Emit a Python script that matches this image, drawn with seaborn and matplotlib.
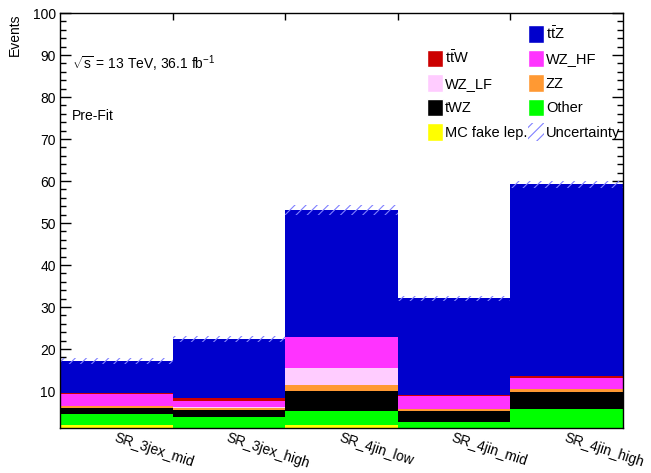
import numpy as np
import pandas as pd
import matplotlib
matplotlib.use("Agg")
import matplotlib.pyplot as plt
from matplotlib.patches import Patch
from matplotlib.ticker import MultipleLocator
import seaborn as sns

# signal regions (one bin each)
regions = ["SR_3jex_mid", "SR_3jex_high", "SR_4jin_low", "SR_4jin_mid", "SR_4jin_high"]

# pre-fit yields per sample
ttZ = [7.5, 14.0, 30.2, 23.1, 45.6]
ttW = [0.3, 0.7, 0.15, 0.05, 0.4]
wz_hf = [2.7, 1.6, 7.4, 3.1, 2.7]
wz_lf = [0.2, 0.1, 4.0, 0.1, 0.1]
zz = [0.4, 0.5, 1.4, 0.4, 0.6]
twz = [1.5, 1.6, 4.8, 2.6, 4.1]
other = [2.45, 3.6, 3.2, 2.5, 5.5]
fake = [2.0, 0.3, 2.0, 0.2, 0.2]
uncert = [0.7, 0.7, 1.2, 0.6, 0.9]

# top of stack first, bottom last (seaborn stacks last hue at the bottom)
samples = ["ttZ", "ttW", "WZ_HF", "WZ_LF", "ZZ", "tWZ", "Other", "MC fake lep."]
yields = [ttZ, ttW, wz_hf, wz_lf, zz, twz, other, fake]
colors = {
    "ttZ": "#0000cc",
    "ttW": "#cc0000",
    "WZ_HF": "#ff33ff",
    "WZ_LF": "#ffccff",
    "ZZ": "#ff9933",
    "tWZ": "#000000",
    "Other": "#00ff00",
    "MC fake lep.": "#ffff00",
}
labels = {
    "ttZ": r"$\mathrm{t\bar{t}Z}$",
    "ttW": r"$\mathrm{t\bar{t}W}$",
}
unc_color = "#8080ff"

rows = []
for s, vals in zip(samples, yields):
    for i, v in enumerate(vals):
        rows.append({"bin": i + 0.5, "sample": s, "yield": v})
df = pd.DataFrame(rows)
total = df.groupby("bin")["yield"].sum().values

sns.set_style("ticks")
plt.rcParams["font.family"] = ["Liberation Sans", "DejaVu Sans"]
plt.rcParams["mathtext.fontset"] = "custom"
plt.rcParams["mathtext.rm"] = "Liberation Sans"
plt.rcParams["hatch.linewidth"] = 0.8
plt.rcParams["hatch.color"] = unc_color
plt.rcParams["text.color"] = "black"
plt.rcParams["axes.labelcolor"] = "black"

fig = plt.figure(figsize=(6.51, 4.73), dpi=100)
ax = fig.add_axes([60 / 651, 1 - 428 / 473, 563 / 651, 415 / 473])

sns.histplot(
    data=df, x="bin", weights="yield", hue="sample", hue_order=samples,
    palette=colors, multiple="stack", bins=5, binrange=(0, 5), element="bars",
    alpha=1, linewidth=0, edgecolor="none", shrink=1, legend=False, ax=ax,
)

# uncertainty band on top of the stack
ax.bar(np.arange(5) + 0.5, 2 * np.array(uncert), bottom=total - np.array(uncert),
       width=1, fill=False, hatch="///", edgecolor=unc_color, linewidth=0)

ax.set_xlim(0, 5)
ax.set_ylim(1.2, 100)
ax.set_xlabel("")
ax.set_ylabel("Events", loc="top", fontsize=10, labelpad=8)

# x: ticks on bin edges, labels at centers
ax.set_xticks([1, 2, 3, 4], labels=[])
ax.set_xticks(np.arange(5) + 0.5, labels=regions, minor=True)
ax.tick_params(axis="x", which="major", direction="in", length=5, top=True, width=1, color="black")
ax.tick_params(axis="x", which="minor", length=0, pad=2, labelsize=10, labelrotation=-18,
               labelcolor="black")
for lab in ax.get_xticklabels(minor=True):
    lab.set_ha("left")
    lab.set_rotation_mode("anchor")

ax.set_yticks(np.arange(10, 101, 10))
ax.yaxis.set_minor_locator(MultipleLocator(2))
ax.tick_params(axis="y", which="major", direction="in", length=8, right=True, labelsize=10,
               pad=3, width=1, color="black", labelcolor="black")
ax.tick_params(axis="y", which="minor", direction="in", length=4, right=True, width=1, color="black")
for sp in ax.spines.values():
    sp.set_linewidth(1)
    sp.set_color("black")
    sp.set_visible(True)

ax.text(0.021, 0.877, r"$\sqrt{\mathrm{s}}$ = 13 TeV, 36.1 fb$^{-1}$", transform=ax.transAxes,
        fontsize=10, va="center", ha="left")
ax.text(0.021, 0.752, "Pre-Fit", transform=ax.transAxes, fontsize=10, va="center", ha="left")

handles = [
    Patch(facecolor="none", edgecolor="none", label=" "),
    Patch(facecolor=colors["ttW"], label=labels["ttW"]),
    Patch(facecolor=colors["WZ_LF"], label="WZ_LF"),
    Patch(facecolor=colors["tWZ"], label="tWZ"),
    Patch(facecolor=colors["MC fake lep."], label="MC fake lep."),
    Patch(facecolor=colors["ttZ"], label=labels["ttZ"]),
    Patch(facecolor=colors["WZ_HF"], label="WZ_HF"),
    Patch(facecolor=colors["ZZ"], label="ZZ"),
    Patch(facecolor=colors["Other"], label="Other"),
    Patch(facecolor="none", edgecolor=unc_color, hatch="///", linewidth=0, label="Uncertainty"),
]
fig.legend(handles=handles, ncol=2, loc="upper left", bbox_to_anchor=(427 / 651, 1 - 25 / 473),
           bbox_transform=fig.transFigure, frameon=False, fontsize=10.5,
           handlelength=1.1, handleheight=1.5, handletextpad=0.15, columnspacing=0.0,
           labelspacing=0.46, borderpad=0, borderaxespad=0)

fig.savefig("out.png", dpi=100)
